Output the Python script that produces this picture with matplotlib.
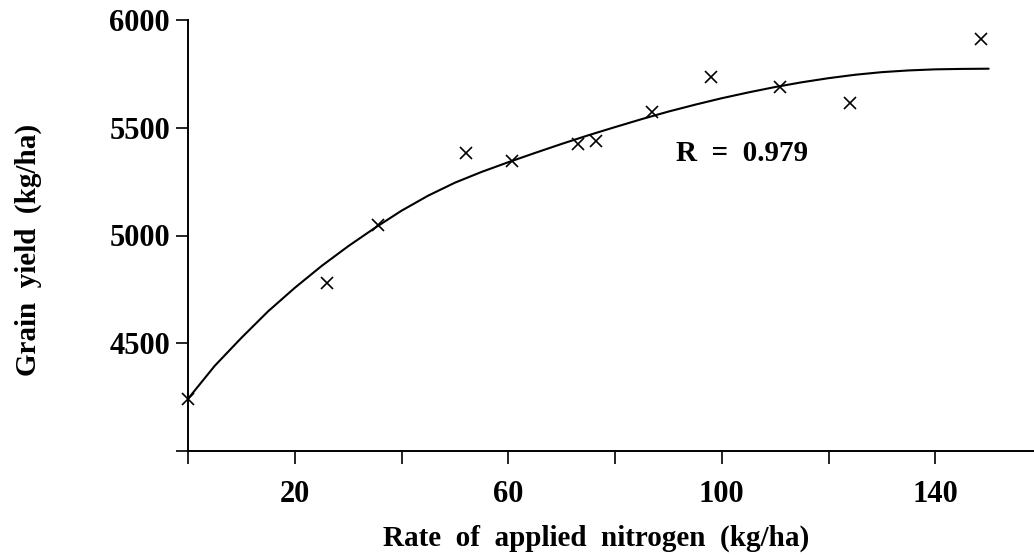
import numpy as np
import matplotlib
matplotlib.use("Agg")
import matplotlib.pyplot as plt

plt.rcParams['font.family'] = ['Liberation Serif', 'DejaVu Serif']
plt.rcParams['font.weight'] = 'bold'

# measured yields (kg/ha) at each nitrogen rate (kg/ha)
n_rate = [0, 26, 35.6, 52, 60.7, 73, 76.5, 87, 98, 111, 124, 148.6]
yield_obs = [4240, 4780, 5050, 5385, 5345, 5425, 5440, 5575, 5735, 5690, 5615, 5910]

# fitted response curve
curve_x = [0, 5, 10, 15, 20, 25, 30, 35, 40, 45, 50, 55, 60, 65, 70, 75,
           80, 85, 90, 95, 100, 105, 110, 115, 120, 125, 130, 135, 140, 145, 150]
curve_y = [4242, 4395, 4525, 4648, 4757, 4858, 4950, 5035, 5115, 5185, 5245,
           5295, 5340, 5383, 5425, 5465, 5503, 5540, 5575, 5607, 5637, 5664,
           5689, 5711, 5730, 5746, 5758, 5766, 5771, 5773, 5774]

x_ticks = [0, 20, 40, 60, 80, 100, 120, 140]
x_labels = ['', '20', '', '60', '', '100', '', '140']
y_ticks = [4000, 4500, 5000, 5500, 6000]
y_labels = ['', '4500', '5000', '5500', '6000']
r_text = 'R  =  0.979'

fig = plt.figure(figsize=(10.34, 5.57), dpi=100)
ax = fig.add_axes([188/1034, 106/557, 1 - 188/1034, 431/557])

ax.plot(curve_x, curve_y, color='black', lw=1.5, solid_capstyle='round')
ax.plot(n_rate, yield_obs, ls='none', marker='x', ms=8.5, mew=1.2, color='black',
        clip_on=False)
ax.text(91.5, 5345, r_text, fontsize=21, fontweight='bold', ha='left', va='baseline')

ax.set_xlim(0, 158.5)
ax.set_ylim(4000, 6000)
ax.set_xticks(x_ticks)
ax.set_xticklabels(x_labels)
ax.set_yticks(y_ticks)
ax.set_yticklabels(y_labels)

for s in ['top', 'right']:
    ax.spines[s].set_visible(False)
for s in ['left', 'bottom']:
    ax.spines[s].set_linewidth(1.4)
ax.tick_params(axis='x', direction='out', length=9, width=1.2, pad=12, labelsize=22)
ax.tick_params(axis='y', direction='out', length=9, width=1.2, pad=4, labelsize=22)

ax.set_xlabel('Rate  of  applied  nitrogen  (kg/ha)', fontsize=21, fontweight='bold')
ax.set_ylabel('Grain  yield  (kg/ha)', fontsize=21, fontweight='bold')
ax.xaxis.set_label_coords(0.482, -0.172)
ax.yaxis.set_label_coords(-0.172, 0.466)

fig.savefig('out.png', dpi=100)
